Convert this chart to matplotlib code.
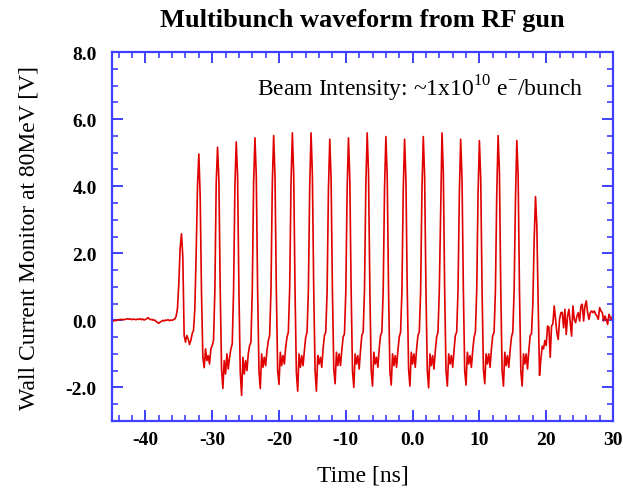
import numpy as np
import matplotlib
matplotlib.use("Agg")
import matplotlib.pyplot as plt
from matplotlib.ticker import MultipleLocator

# sampling of the scope trace (ns)
t_start = -45.0
t_step = 0.2

# flat baseline before the beam, t = -45.0 ... -36.2
baseline = [0.0, -0.02, 0.0, -0.01, 0.02, 0.01, 0.03, 0.02, 0.03, 0.02,
            0.03, 0.04, 0.05, 0.03, 0.04, 0.02, 0.04, 0.03, 0.02, 0.04,
            0.03, 0.05, 0.02, 0.04, 0.01, 0.03, 0.05, 0.08, 0.04, 0.02,
            0.03, 0.0, 0.01, -0.03, -0.06, -0.09, -0.05, -0.03, 0.0, -0.02,
            0.01, 0.0, 0.02, -0.01, 0.01]

# small leading bunch, t = -36.0 ... -32.6
first_bunch = [0.0, 0.02, 0.04, 0.12, 0.35, 1.1, 2.15, 2.58, 1.9, -0.45,
               -0.65, -0.45, -0.55, -0.72, -0.6, -0.4, -0.3, 0.33]

# main bunch train, one row per 2.8 ns bunch period (starts t = -32.4)
bunch_samples = [
    [2.0, 4.0, 4.96, 3.7, 0.8, -1.1, -1.41, -0.85, -1.2, -1.05, -1.3, -0.85, -0.75, -0.6],
    [0.9, 4.1, 5.16, 4.2, 0.9, -1.45, -2.03, -1.2, -1.6, -1.0, -1.45, -1.1, -0.85, -0.7],
    [0.9, 4.0, 5.32, 4.3, 0.9, -1.55, -2.24, -1.1, -1.6, -1.2, -1.5, -1.0, -0.75, -0.65],
    [0.9, 4.1, 5.44, 4.3, 0.9, -1.5, -2.03, -1.0, -1.4, -1.1, -1.35, -0.9, -0.6, -0.45],
    [0.9, 4.1, 5.51, 4.3, 0.9, -1.5, -1.91, -0.95, -1.35, -1.05, -1.3, -0.8, -0.5, -0.35],
    [0.95, 4.1, 5.59, 4.35, 0.9, -1.55, -2.11, -1.0, -1.4, -1.05, -1.35, -0.9, -0.5, -0.35],
    [0.9, 4.0, 5.59, 4.3, 0.9, -1.5, -2.11, -1.05, -1.3, -1.1, -1.4, -0.85, -0.45, -0.35],
    [0.85, 3.9, 5.40, 4.2, 0.85, -1.45, -1.89, -0.95, -1.35, -1.0, -1.35, -0.9, -0.5, -0.4],
    [0.85, 3.9, 5.44, 4.2, 0.9, -1.5, -2.0, -1.0, -1.3, -1.05, -1.45, -0.9, -0.45, -0.35],
    [0.9, 4.05, 5.59, 4.4, 0.95, -1.5, -1.96, -0.95, -1.3, -1.1, -1.4, -0.85, -0.45, -0.35],
    [0.9, 3.95, 5.48, 4.3, 0.9, -1.5, -1.93, -1.0, -1.35, -1.05, -1.4, -0.9, -0.5, -0.35],
    [0.85, 3.9, 5.40, 4.2, 0.9, -1.45, -1.96, -0.95, -1.3, -1.0, -1.4, -0.85, -0.45, -0.35],
    [0.85, 3.9, 5.48, 4.3, 0.9, -1.5, -2.01, -1.0, -1.35, -1.05, -1.45, -0.9, -0.5, -0.35],
    [0.9, 3.2, 5.59, 4.4, 0.9, -1.5, -1.96, -1.0, -1.3, -1.05, -1.4, -0.9, -0.45, -0.35],
    [0.9, 3.8, 5.40, 4.2, 0.9, -1.5, -1.93, -0.95, -1.3, -1.05, -1.4, -0.9, -0.5, -0.35],
    [0.9, 3.8, 5.36, 4.2, 0.9, -1.45, -1.89, -1.0, -1.3, -1.0, -1.4, -0.85, -0.45, -0.35],
    [0.9, 3.8, 5.51, 4.4, 0.9, -1.5, -1.96, -0.95, -1.35, -1.05, -1.4, -0.9, -0.5, -0.35],
    [0.9, 3.6, 5.36, 4.3, 0.9, -1.5, -1.96, -1.0, -1.3, -1.0, -1.45, -0.9, -0.45, -0.4],
    [0.5, 2.4, 3.69, 2.8, 0.48, -1.64, -1.16, -0.77, -0.85, -0.6, -0.75, -0.17, -0.2, -1.1],
]

# ringing after the train, t = 20.8 ... 30.0
tail = [-0.17, -0.1, 0.43, 0.03, -0.37, -0.57, 0.03, 0.23, 0.24, -0.22,
        0.33, -0.42, 0.13, 0.33, -0.07, -0.47, 0.43, 0.03, -0.07, 0.13,
        0.23, -0.02, 0.43, 0.48, -0.02, 0.43, 0.58, 0.23, 0.03, 0.23,
        0.28, 0.23, 0.28, 0.18, 0.13, 0.03, 0.38, 0.28, 0.23, -0.02,
        0.13, 0.03, -0.12, 0.18, 0.08, 0.03, 0.18]

xtick_pos = [-40, -30, -20, -10, 0, 10, 20, 30]
xtick_lab = ["-40", "-30", "-20", "-10", "0.0", "10", "20", "30"]
ytick_pos = [-2, 0, 2, 4, 6, 8]
ytick_lab = ["-2.0", "0.0", "2.0", "4.0", "6.0", "8.0"]

volts = baseline + first_bunch + [v for row in bunch_samples for v in row] + tail
volts = np.array(volts)
time = t_start + t_step * np.arange(len(volts))

blue = "#3f3fff"
serif = ["Liberation Serif", "DejaVu Serif"]
plt.rcParams["mathtext.fontset"] = "custom"
plt.rcParams["mathtext.rm"] = "Liberation Serif"

fig = plt.figure(figsize=(6.23, 4.89), dpi=100)
ax = fig.add_axes([112 / 623, 1 - 422 / 489, 501 / 623, 369 / 489])

ax.plot(time, volts, color="#e00000", lw=1.2)

ax.set_xlim(-45, 30)
ax.set_ylim(-3, 8)
ax.set_xticks(xtick_pos)
ax.set_xticklabels(xtick_lab)
ax.set_yticks(ytick_pos)
ax.set_yticklabels(ytick_lab)
ax.xaxis.set_minor_locator(MultipleLocator(2))
ax.yaxis.set_minor_locator(MultipleLocator(0.5))

for sp in ax.spines.values():
    sp.set_color(blue)
    sp.set_linewidth(1.6)
ax.tick_params(which="both", direction="in", top=True, right=True, color=blue)
ax.tick_params(which="major", length=8, width=1.4, pad=7)
ax.tick_params(axis="y", which="major", pad=11)
ax.tick_params(which="minor", length=4, width=1.2)
for lab in ax.get_xticklabels() + ax.get_yticklabels():
    lab.set_family(serif)
    lab.set_fontweight("bold")
    lab.set_fontsize(14)

fig.text(362 / 623, 1 - 20 / 489, "Multibunch waveform from RF gun",
         ha="center", va="center", family=serif, fontweight="bold", fontsize=19)
ax.set_xlabel("Time [ns]", family=serif, fontsize=17, labelpad=12)
ax.set_ylabel("Wall Current Monitor at 80MeV [V]", family=serif, fontsize=17, labelpad=19)
ax.text(0.94, 0.902, r"Beam Intensity: ~1x10$^{10}$ e$^{-}$/bunch",
        transform=ax.transAxes, ha="right", va="center", family=serif, fontsize=17)

fig.savefig("out.png", dpi=100)
